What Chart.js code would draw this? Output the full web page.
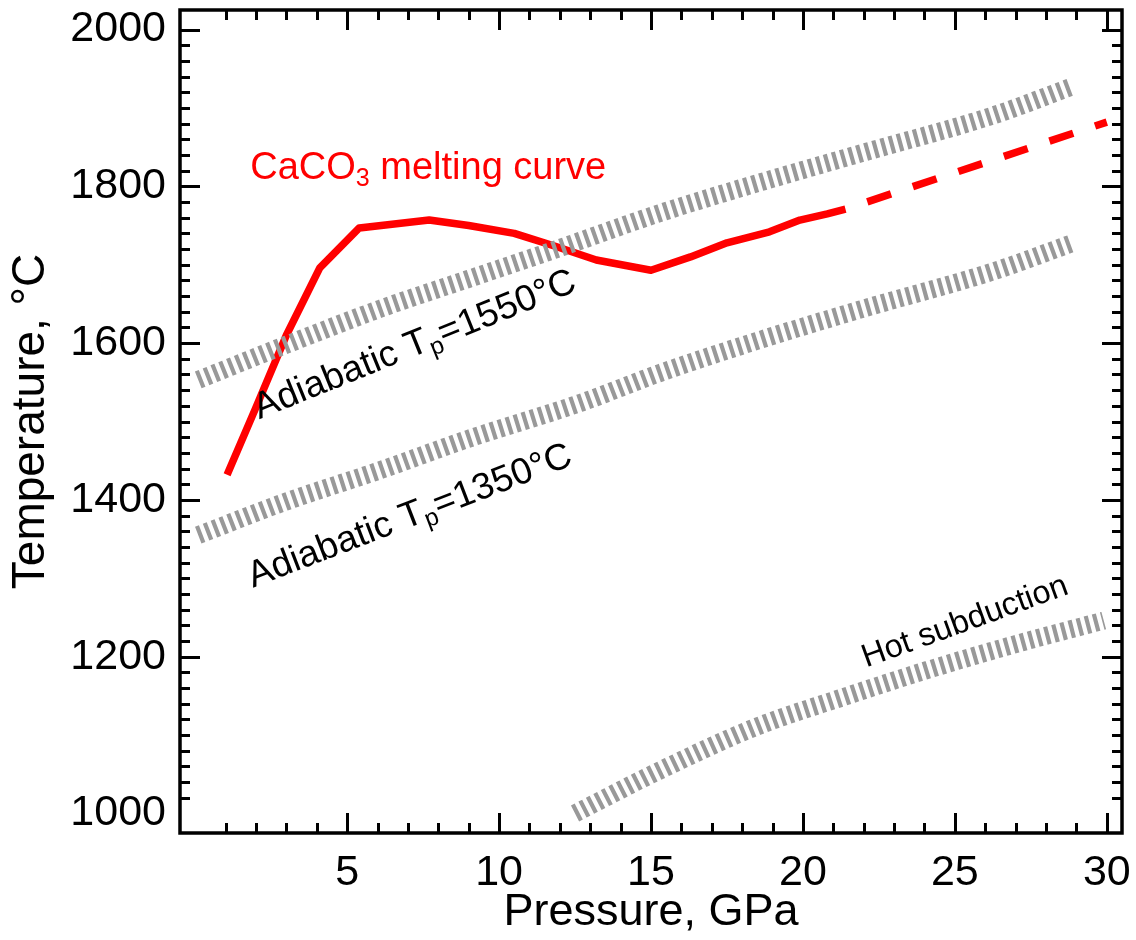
<!DOCTYPE html>
<html>
<head>
<meta charset="utf-8">
<title>CaCO3 melting curve vs. mantle adiabats</title>
<script src="https://cdn.jsdelivr.net/npm/chart.js@4/dist/chart.umd.min.js"></script>
<style>
  html, body { margin: 0; padding: 0; background: #ffffff; }
  #wrap { width: 1136px; height: 940px; }
</style>
</head>
<body>
<div id="wrap"><canvas id="c" width="1136" height="940"></canvas></div>
<script>
// ---- data -------------------------------------------------------------
// CaCO3 melting curve (measured part, solid)
const meltP = [1.05, 2.0, 3.0, 4.1, 5.4, 7.7, 9.0, 10.5, 11.9, 13.2, 15.0, 16.3, 17.5, 18.9, 19.9, 20.8, 21.4];
const meltT = [1432, 1518, 1610, 1696, 1747, 1757, 1750, 1740, 1723, 1706, 1693, 1710, 1728, 1742, 1757, 1765, 1771];
// extrapolated part (dashed)
const meltExtP = [21.4, 30.0];
const meltExtT = [1771, 1882];
// mantle adiabat, Tp = 1550 °C
const ad1550P = [0.1, 3.0, 6.1, 9.0, 11.6, 15.3, 18.5, 21.9, 26.3, 28.9];
const ad1550T = [1553, 1598, 1644, 1682, 1716, 1766, 1804, 1842, 1891, 1928];
// mantle adiabat, Tp = 1350 °C
const ad1350P = [0.1, 3.0, 6.1, 9.0, 12.7, 15.3, 18.5, 21.9, 26.3, 28.9];
const ad1350T = [1355, 1398, 1438, 1478, 1524, 1562, 1603, 1643, 1692, 1728];
// hot subduction geotherm
const hotP = [12.5, 15.3, 18.5, 21.3, 24.1, 27.0, 29.9];
const hotT = [1000, 1055, 1111, 1148, 1183, 1216, 1246];
// axis tick labels
const pressureTicks = [5, 10, 15, 20, 25, 30];
const temperatureTicks = [1000, 1200, 1400, 1600, 1800, 2000];

// ---- helpers ----------------------------------------------------------
const FONT = "'Liberation Sans', Arial, Helvetica, sans-serif";
const pts = (xs, ys) => xs.map((v, i) => ({ x: v, y: ys[i] }));

const canvas = document.getElementById('c');

// inward tick marks on all four sides plus the closed frame
const frameTicks = {
  id: 'frameTicks',
  afterDatasetsDraw(chart) {
    const { ctx, chartArea: a, scales: { x, y } } = chart;
    const MAJOR = 20, MINOR = 10;
    ctx.save();
    ctx.strokeStyle = '#000';
    ctx.lineWidth = 3;
    ctx.lineCap = 'butt';
    ctx.beginPath();
    for (let v = 1; v <= 30; v += 1) {
      const len = pressureTicks.includes(v) ? MAJOR : MINOR;
      const px = Math.round(x.getPixelForValue(v)) + 0.5;
      ctx.moveTo(px, a.bottom); ctx.lineTo(px, a.bottom - len);
      ctx.moveTo(px, a.top); ctx.lineTo(px, a.top + len);
    }
    for (let v = 1020; v <= 2000; v += 20) {
      const len = temperatureTicks.includes(v) ? MAJOR : MINOR;
      const py = Math.round(y.getPixelForValue(v)) + 0.5;
      ctx.moveTo(a.left, py); ctx.lineTo(a.left + len, py);
      ctx.moveTo(a.right, py); ctx.lineTo(a.right - len, py);
    }
    ctx.stroke();
    ctx.lineWidth = 3.5;
    ctx.strokeRect(a.left, a.top, a.right - a.left, a.bottom - a.top);
    ctx.restore();
  }
};

// text with subscripts, anchored at a data point and rotated
function richText(ctx, parts, px, py, angleDeg, size, color) {
  ctx.save();
  ctx.translate(px, py);
  ctx.rotate(angleDeg * Math.PI / 180);
  ctx.fillStyle = color;
  ctx.textBaseline = 'alphabetic';
  ctx.textAlign = 'left';
  let cx = 0;
  for (const p of parts) {
    const s = p.sub ? size * 0.66 : size;
    ctx.font = s + 'px ' + FONT;
    ctx.fillText(p.t, cx, p.sub ? size * 0.18 : 0);
    cx += ctx.measureText(p.t).width;
  }
  ctx.restore();
}

const curveLabels = [
  { p: 1.81, T: 1809, angle: 0, size: 38, color: '#ff0000',
    parts: [{ t: 'CaCO' }, { t: '3', sub: true }, { t: ' melting curve' }] },
  { p: 2.11, T: 1503, angle: -22, size: 37, color: '#000000',
    parts: [{ t: 'Adiabatic T' }, { t: 'p', sub: true }, { t: '=1550°C' }] },
  { p: 1.90, T: 1288, angle: -21, size: 37, color: '#000000',
    parts: [{ t: 'Adiabatic T' }, { t: 'p', sub: true }, { t: '=1350°C' }] },
  { p: 22.08, T: 1186, angle: -20, size: 32.5, color: '#000000',
    parts: [{ t: 'Hot subduction' }] }
];

const labelsPlugin = {
  id: 'curveLabels',
  afterDatasetsDraw(chart) {
    const { ctx, scales: { x, y } } = chart;
    for (const l of curveLabels) {
      richText(ctx, l.parts, x.getPixelForValue(l.p), y.getPixelForValue(l.T), l.angle, l.size, l.color);
    }
  }
};

// ---- chart ------------------------------------------------------------
// gray geotherm bands: a wide stroke broken into short bars
const band = (data) => ({
  data, borderColor: '#999999', borderWidth: 18, pointRadius: 0,
  borderDash: [4.2, 4.2], borderCapStyle: 'butt',
  cubicInterpolationMode: 'monotone', fill: false
});

new Chart(canvas, {
  type: 'line',
  data: {
    datasets: [
      band(pts(ad1550P, ad1550T)),
      band(pts(ad1350P, ad1350T)),
      band(pts(hotP, hotT)),
      { data: pts(meltP, meltT), borderColor: '#ff0000', borderWidth: 7.5, pointRadius: 0,
        tension: 0, borderJoinStyle: 'round', borderCapStyle: 'butt', fill: false },
      { data: pts(meltExtP, meltExtT), borderColor: '#ff0000', borderWidth: 7.5, pointRadius: 0,
        borderDash: [25, 23], borderDashOffset: 25, borderCapStyle: 'butt', fill: false }
    ]
  },
  options: {
    responsive: false,
    animation: false,
    events: [],
    layout: { padding: { top: 10, right: 14, left: 0, bottom: 0 } },
    plugins: { legend: { display: false }, tooltip: { enabled: false } },
    scales: {
      x: {
        type: 'linear', min: -0.5, max: 30.5,
        afterBuildTicks: (s) => { s.ticks = pressureTicks.map(v => ({ value: v })); },
        afterFit: (s) => { s.height = 107; s.paddingLeft = 0; s.paddingRight = 0; },
        grid: { display: false, drawTicks: false },
        border: { display: false },
        ticks: { color: '#000', font: { family: FONT, size: 43 }, padding: 14, maxRotation: 0,
                 autoSkip: false, callback: (v) => String(v) },
        title: { display: true, text: 'Pressure, GPa', color: '#000',
                 font: { family: FONT, size: 45 }, padding: { top: 0, bottom: 0 } }
      },
      y: {
        type: 'linear', min: 975, max: 2025,
        afterBuildTicks: (s) => { s.ticks = temperatureTicks.map(v => ({ value: v })); },
        afterFit: (s) => { s.width = 180; s.paddingTop = 0; s.paddingBottom = 0; },
        grid: { display: false, drawTicks: false },
        border: { display: false },
        ticks: { color: '#000', font: { family: FONT, size: 43 }, padding: 14, autoSkip: false,
                 callback: (v) => String(v) },
        title: { display: true, text: 'Temperature, °C', color: '#000',
                 font: { family: FONT, size: 46 }, padding: { top: 4, bottom: 0 } }
      }
    }
  },
  plugins: [frameTicks, labelsPlugin]
});
</script>
</body>
</html>
